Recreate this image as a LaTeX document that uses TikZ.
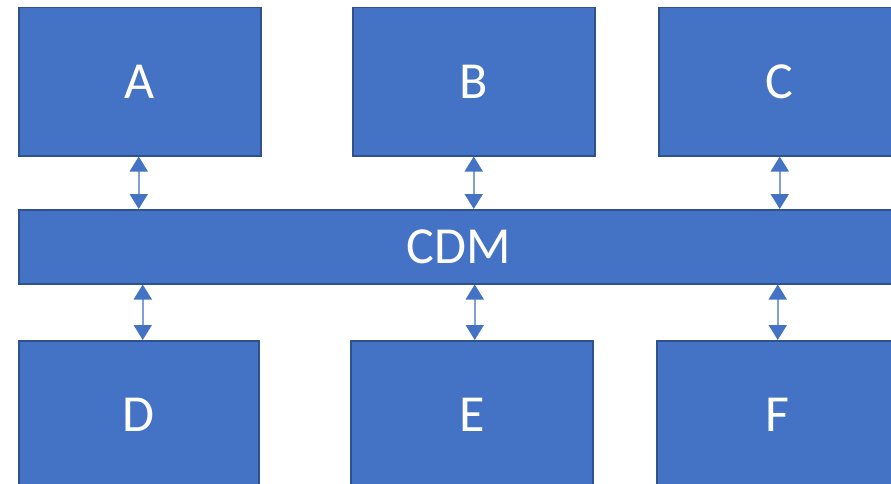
\documentclass[tikz,border=0pt]{standalone}
\usepackage{fontspec}
\setmainfont{Carlito}
\usetikzlibrary{arrows.meta}
\definecolor{boxfill}{HTML}{4472C4}
\definecolor{boxline}{HTML}{2F528F}
\definecolor{shaft}{HTML}{7FA0D8}
\tikzset{
  blk/.style={draw=boxline, line width=1.5pt, fill=boxfill, text=white, anchor=north west,
    minimum width=242pt, minimum height=148pt, inner sep=0pt,
    font=\fontsize{52}{60}\selectfont},
  bar/.style={blk, minimum width=880pt, minimum height=74pt, font=\fontsize{52}{60}\selectfont},
  link/.style={draw=shaft, line width=1.8pt,
    {Triangle[width=18pt,length=15pt,color=boxfill]}-{Triangle[width=18pt,length=15pt,color=boxfill]}}
}
\begin{document}
\begin{tikzpicture}[x=1pt,y=-1pt]
\useasboundingbox (0,0) rectangle (891,484);
\clip (0,0) rectangle (891,484);
\node[blk] (A) at (18,7) {A};
\node[blk] (B) at (352,7) {B};
\node[blk] (C) at (658,7) {C};
\node[bar] (cdm) at (18,209) {CDM};
\node[blk, minimum width=240pt] (D) at (18,340) {D};
\node[blk] (E) at (350,340) {E};
\node[blk] (F) at (656,340) {F};
\draw[link] ([xshift=-1pt]A.south) -- ([xshift=-1pt]A.south |- cdm.north);
\draw[link] ([xshift=0pt]B.south) -- ([xshift=0pt]B.south |- cdm.north);
\draw[link] ([xshift=0pt]C.south) -- ([xshift=0pt]C.south |- cdm.north);
\draw[link] ([xshift=4pt]D.north |- cdm.south) -- ([xshift=4pt]D.north);
\draw[link] ([xshift=3pt]E.north |- cdm.south) -- ([xshift=3pt]E.north);
\draw[link] ([xshift=0pt]F.north |- cdm.south) -- ([xshift=0pt]F.north);
\end{tikzpicture}
\end{document}
